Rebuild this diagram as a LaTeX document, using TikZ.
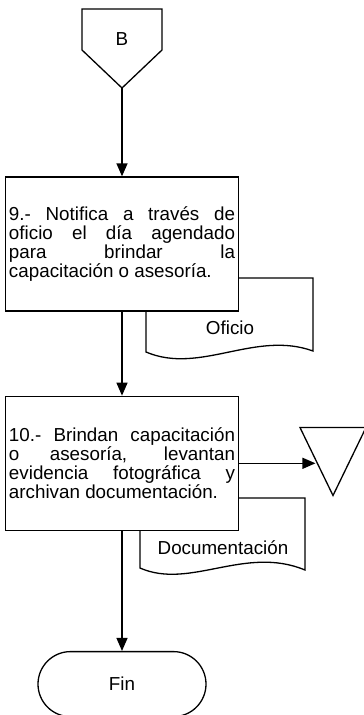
\documentclass[tikz,border=0pt]{standalone}
\usepackage{fontspec}
\setmainfont{Liberation Sans}
\usetikzlibrary{shapes.geometric, arrows.meta, positioning, calc}
\newcommand\flowfont{\fontsize{18.8}{19.2}\selectfont}
\tikzset{
    process/.style={rectangle, draw, fill=white, line width=1.3pt, minimum height=134pt, text width=226pt, inner sep=3.5pt, align=justify, font=\flowfont},
    terminal/.style={rectangle, draw, fill=white, line width=1.3pt, rounded corners=32.5pt, minimum width=168pt, minimum height=65pt, font=\flowfont},
    storage/.style={isosceles triangle, draw, line width=1.3pt, shape border rotate=270, isosceles triangle apex angle=52, isosceles triangle stretches, minimum width=66pt, minimum height=68pt, inner sep=0pt},
    docshape/.style={draw, fill=white, line width=1.3pt},
    doctext/.style={font=\flowfont, inner sep=0pt},
    flow/.style={-{Triangle[length=13pt, width=11pt]}, line width=1.3pt}
}
\begin{document}
\begin{tikzpicture}[x=1pt, y=-1pt]
    \useasboundingbox (0,0) rectangle (364,715);
    % Off-page connector
    \draw[line width=1.3pt] (82,9) -- (162,9) -- (162,50) -- (122,88) coordinate (tipB) -- (82,50) -- cycle;
    \node[doctext] (conB) at (122,39) {B};

    % Documents (behind the steps)
    \draw[docshape] (146,278) -- (313,278) -- (313,351) .. controls (255,330) and (200,375) .. (146,352) -- cycle;
    \node[doctext] (oficio) at (230,328) {Oficio};
    \draw[docshape] (140,498) -- (305,498) -- (305,570) .. controls (245,545) and (190,590) .. (140,568) -- cycle;
    \node[doctext] (docu) at (223,548) {Documentación};

    % Steps
    \node[process] (step9) at (122,244) {9.- Notifica a través de\linebreak oficio el día agendado\linebreak para brindar la\linebreak capacitación o asesoría.};
    \node[process, below=84pt of step9] (step10) {10.- Brindan capacitación\linebreak o asesoría, levantan\linebreak evidencia fotográfica y\linebreak archivan documentación.};
    \node[terminal, below=120pt of step10] (fin) {Fin};
    \node[storage, anchor=apex] (archive) at (333,497) {};
    \coordinate (archIn) at ($(archive.apex)!0.515!(archive.right corner)$);

    % Links
    \draw[flow] (tipB) -- (step9);
    \draw[flow] (step9) -- (step10);
    \draw[flow] (step10) -- (fin);
    \draw[flow] (step10.east) -- (step10.east -| archIn);
\end{tikzpicture}
\end{document}
